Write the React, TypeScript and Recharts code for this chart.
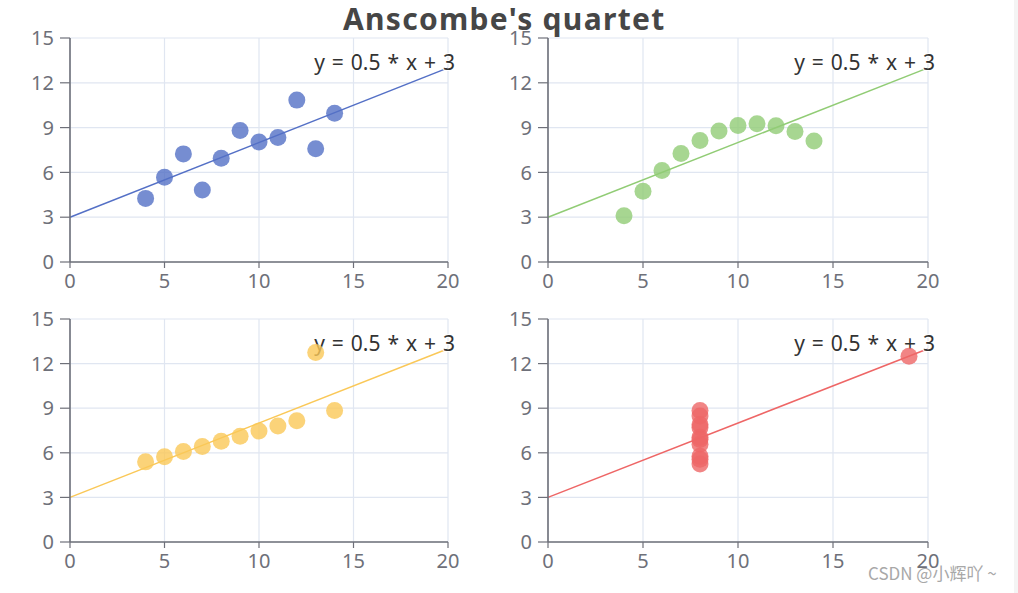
import React from 'react';
import { ScatterChart, Scatter, XAxis, YAxis, CartesianGrid, ReferenceLine } from 'recharts';

const xI = [10, 8, 13, 9, 11, 14, 6, 4, 12, 7, 5];
const yI = [8.04, 6.95, 7.58, 8.81, 8.33, 9.96, 7.24, 4.26, 10.84, 4.82, 5.68];
const xII = [10, 8, 13, 9, 11, 14, 6, 4, 12, 7, 5];
const yII = [9.14, 8.14, 8.74, 8.77, 9.26, 8.1, 6.13, 3.1, 9.13, 7.26, 4.74];
const xIII = [10, 8, 13, 9, 11, 14, 6, 4, 12, 7, 5];
const yIII = [7.46, 6.77, 12.74, 7.11, 7.81, 8.84, 6.08, 5.39, 8.15, 6.42, 5.73];
const xIV = [8, 8, 8, 8, 8, 8, 8, 19, 8, 8, 8];
const yIV = [6.58, 5.76, 7.71, 8.84, 8.47, 7.04, 5.25, 12.5, 5.56, 7.91, 6.89];

const lineX = [0, 20];
const lineY = [3, 13];
const lineLabel = 'y = 0.5 * x + 3';

const xTicks = [0, 5, 10, 15, 20];
const yTicks = [0, 3, 6, 9, 12, 15];

const titleText = "Anscombe's quartet";
const watermark = 'CSDN @小辉吖 ~';

const colors = ['#5470c6', '#91cc75', '#fac858', '#ee6666'];

const W = 1018;
const H = 593;
const Y_AXIS_W = 40;
const X_AXIS_H = 30;

const toPoints = (xs: number[], ys: number[]) => xs.map((x, i) => ({ x, y: ys[i] }));

type PanelProps = {
  xs: number[];
  ys: number[];
  color: string;
  plot: { l: number; r: number; t: number; b: number };
};

const axisColor = '#6E7079';
const fontFamily = '"Noto Sans", "DejaVu Sans", sans-serif';

const Panel = ({ xs, ys, color, plot }: PanelProps) => {
  const data = toPoints(xs, ys);
  const margin = {
    top: plot.t,
    left: plot.l - Y_AXIS_W,
    right: W - plot.r,
    bottom: H - plot.b - X_AXIS_H,
  };
  const renderLabel = (p: any) => {
    const vb = p.viewBox || {};
    const ex = (vb.x ?? 0) + (vb.width ?? 0);
    const ey = vb.y ?? 0;
    return (
      <text
        x={ex + 7}
        y={ey + 2}
        textAnchor="end"
        fontSize={21}
        fill="#333"
        stroke="#fff"
        strokeWidth={2}
        paintOrder="stroke"
        style={{ fontFamily, wordSpacing: '1.5px' }}
      >
        {lineLabel}
      </text>
    );
  };
  return (
    <div style={{ position: 'absolute', left: 0, top: 0, width: W, height: H, pointerEvents: 'none' }}>
      <ScatterChart width={W} height={H} margin={margin} style={{ fontFamily }}>
        <CartesianGrid stroke="#E0E6F1" strokeWidth={1.2} />
        <XAxis
          type="number"
          dataKey="x"
          domain={[0, 20]}
          ticks={xTicks}
          height={X_AXIS_H}
          axisLine={{ stroke: axisColor, strokeWidth: 1.6 }}
          tickLine={{ stroke: axisColor, strokeWidth: 1.2 }}
          tickSize={6}
          tickMargin={6}
          tick={{ fill: axisColor, fontSize: 20 }}
          interval={0}
        />
        <YAxis
          type="number"
          dataKey="y"
          domain={[0, 15]}
          ticks={yTicks}
          width={Y_AXIS_W}
          axisLine={{ stroke: axisColor, strokeWidth: 1.6 }}
          tickLine={{ stroke: axisColor, strokeWidth: 1.2 }}
          tickSize={10}
          tickMargin={6}
          tick={{ fill: axisColor, fontSize: 20 }}
          interval={0}
        />
        <Scatter
          data={data}
          isAnimationActive={false}
          shape={(p: any) => <circle cx={p.cx} cy={p.cy} r={8.5} fill={color} fillOpacity={0.8} />}
        />
        <ReferenceLine
          segment={[
            { x: lineX[0], y: lineY[0] },
            { x: lineX[1], y: lineY[1] },
          ]}
          stroke={color}
          strokeWidth={1.5}
          label={renderLabel}
          ifOverflow="visible"
        />
      </ScatterChart>
    </div>
  );
}

export default function App() {
  return (
    <div style={{ position: 'absolute', left: 0, top: 0, width: W, height: H, background: '#fff', overflow: 'hidden' }}>
      <Panel xs={xI} ys={yI} color={colors[0]} plot={{ l: 70, r: 448, t: 38, b: 262 }} />
      <Panel xs={xII} ys={yII} color={colors[1]} plot={{ l: 548, r: 928, t: 38, b: 262 }} />
      <Panel xs={xIII} ys={yIII} color={colors[2]} plot={{ l: 70, r: 448, t: 319, b: 542 }} />
      <Panel xs={xIV} ys={yIV} color={colors[3]} plot={{ l: 548, r: 928, t: 319, b: 542 }} />
      <div
        style={{
          position: 'absolute',
          left: 343,
          top: 0,
          width: 330,
          whiteSpace: 'nowrap',
          fontFamily,
          fontWeight: 'bold',
          fontSize: 30,
          letterSpacing: '1.3px',
          lineHeight: '38px',
          color: '#464646',
        }}
      >
        {titleText}
      </div>
      <div
        style={{
          position: 'absolute',
          left: 868,
          top: 562,
          fontFamily: '"Noto Sans CJK SC", "Noto Sans", sans-serif',
          fontSize: 17,
          lineHeight: '22px',
          color: '#a8a8a8',
          whiteSpace: 'nowrap',
        }}
      >
        {watermark}
      </div>
      <div style={{ position: 'absolute', left: 1014, top: 0, width: 4, height: H, background: '#f4f4f4' }} />
    </div>
  );
}
